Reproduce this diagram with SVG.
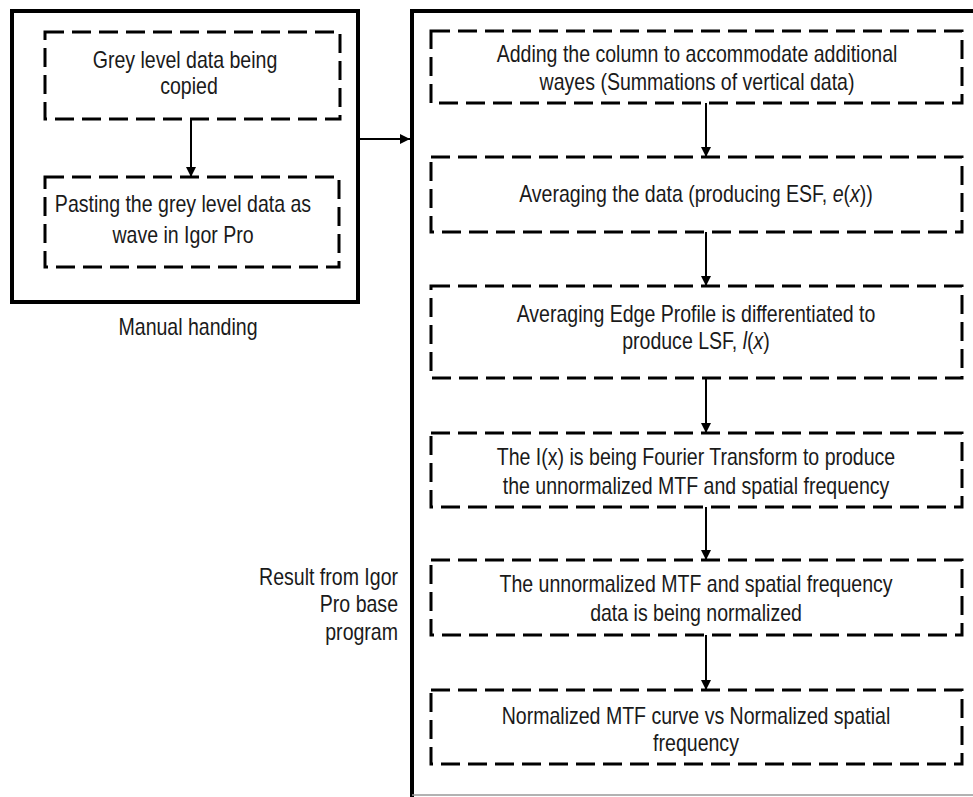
<svg xmlns="http://www.w3.org/2000/svg" width="973" height="797" viewBox="0 0 973 797">
<defs>
<style>
.panel{fill:none;stroke:#000;stroke-width:4}
.dash{fill:none;stroke:#000;stroke-width:3;stroke-dasharray:19 8}
.conn{fill:none;stroke:#000;stroke-width:2}
text{font-family:"Liberation Sans",Arial,sans-serif;font-size:23px;fill:#1a1a1a}
.c{text-anchor:middle}
.r{text-anchor:end}
.i{font-style:italic}
</style>
<marker id="ah" viewBox="0 0 10 10" refX="10" refY="5" markerWidth="5" markerHeight="5" orient="auto" markerUnits="strokeWidth">
<path d="M0,0 L10,5 L0,10 Z" fill="#000"/>
</marker>
</defs>
<rect width="973" height="797" fill="#fff"/>

<g id="manual-panel">
<rect class="panel" x="12" y="11" width="346" height="291"/>
<text class="c" transform="translate(188 335) scale(0.85 1)">Manual handing</text>
</g>

<g id="igor-panel">
<path class="panel" d="M975,11 H412 V797"/>
<line x1="412" y1="795" x2="973" y2="795" stroke="#999" stroke-width="1.5"/>
<text class="r" transform="translate(398 585) scale(0.85 1)">Result from Igor</text>
<text class="r" transform="translate(398 612) scale(0.85 1)">Pro base</text>
<text class="r" transform="translate(398 640) scale(0.85 1)">program</text>
</g>

<g id="copy">
<rect class="dash" x="45" y="32" width="295" height="87"/>
<text class="c" transform="translate(185 68) scale(0.85 1)">Grey level data being</text>
<text class="c" transform="translate(189 94) scale(0.85 1)">copied</text>
</g>

<g id="paste">
<rect class="dash" x="45" y="177" width="294" height="90"/>
<text class="c" transform="translate(183 212) scale(0.85 1)">Pasting the grey level data as</text>
<text class="c" transform="translate(183 243) scale(0.85 1)">wave in Igor Pro</text>
</g>

<g id="add-column">
<rect class="dash" x="431" y="31" width="531" height="72"/>
<text class="c" transform="translate(697 62) scale(0.85 1)">Adding the column to accommodate additional</text>
<text class="c" transform="translate(697 90) scale(0.85 1)">wayes (Summations of vertical data)</text>
</g>

<g id="average">
<rect class="dash" x="431" y="157" width="531" height="75"/>
<text class="c" transform="translate(696 202) scale(0.85 1)">Averaging the data (producing ESF, <tspan class="i">e</tspan>(<tspan class="i">x</tspan>))</text>
</g>

<g id="differentiate">
<rect class="dash" x="431" y="286" width="531" height="92"/>
<text class="c" transform="translate(696 322) scale(0.85 1)">Averaging Edge Profile is differentiated to</text>
<text class="c" transform="translate(696 349) scale(0.85 1)">produce LSF, <tspan class="i">l</tspan>(<tspan class="i">x</tspan>)</text>
</g>

<g id="fourier">
<rect class="dash" x="431" y="433" width="531" height="74"/>
<text class="c" transform="translate(696 465) scale(0.85 1)">The I(x) is being Fourier Transform to produce</text>
<text class="c" transform="translate(696 494) scale(0.85 1)">the unnormalized MTF and spatial frequency</text>
</g>

<g id="normalize">
<rect class="dash" x="431" y="560" width="531" height="75"/>
<text class="c" transform="translate(696 592) scale(0.85 1)">The unnormalized MTF and spatial frequency</text>
<text class="c" transform="translate(696 621) scale(0.85 1)">data is being normalized</text>
</g>

<g id="result">
<rect class="dash" x="431" y="690" width="531" height="74"/>
<text class="c" transform="translate(696 724) scale(0.85 1)">Normalized MTF curve vs Normalized spatial</text>
<text class="c" transform="translate(696 751) scale(0.85 1)">frequency</text>
</g>

<g id="connectors">
<line class="conn" x1="191" y1="119" x2="191" y2="177" marker-end="url(#ah)"/>
<line class="conn" x1="358" y1="139" x2="410" y2="139" marker-end="url(#ah)"/>
<line class="conn" x1="706" y1="103" x2="706" y2="157" marker-end="url(#ah)"/>
<line class="conn" x1="706" y1="232" x2="706" y2="286" marker-end="url(#ah)"/>
<line class="conn" x1="706" y1="378" x2="706" y2="433" marker-end="url(#ah)"/>
<line class="conn" x1="706" y1="507" x2="706" y2="560" marker-end="url(#ah)"/>
<line class="conn" x1="706" y1="635" x2="706" y2="690" marker-end="url(#ah)"/>
</g>
</svg>
